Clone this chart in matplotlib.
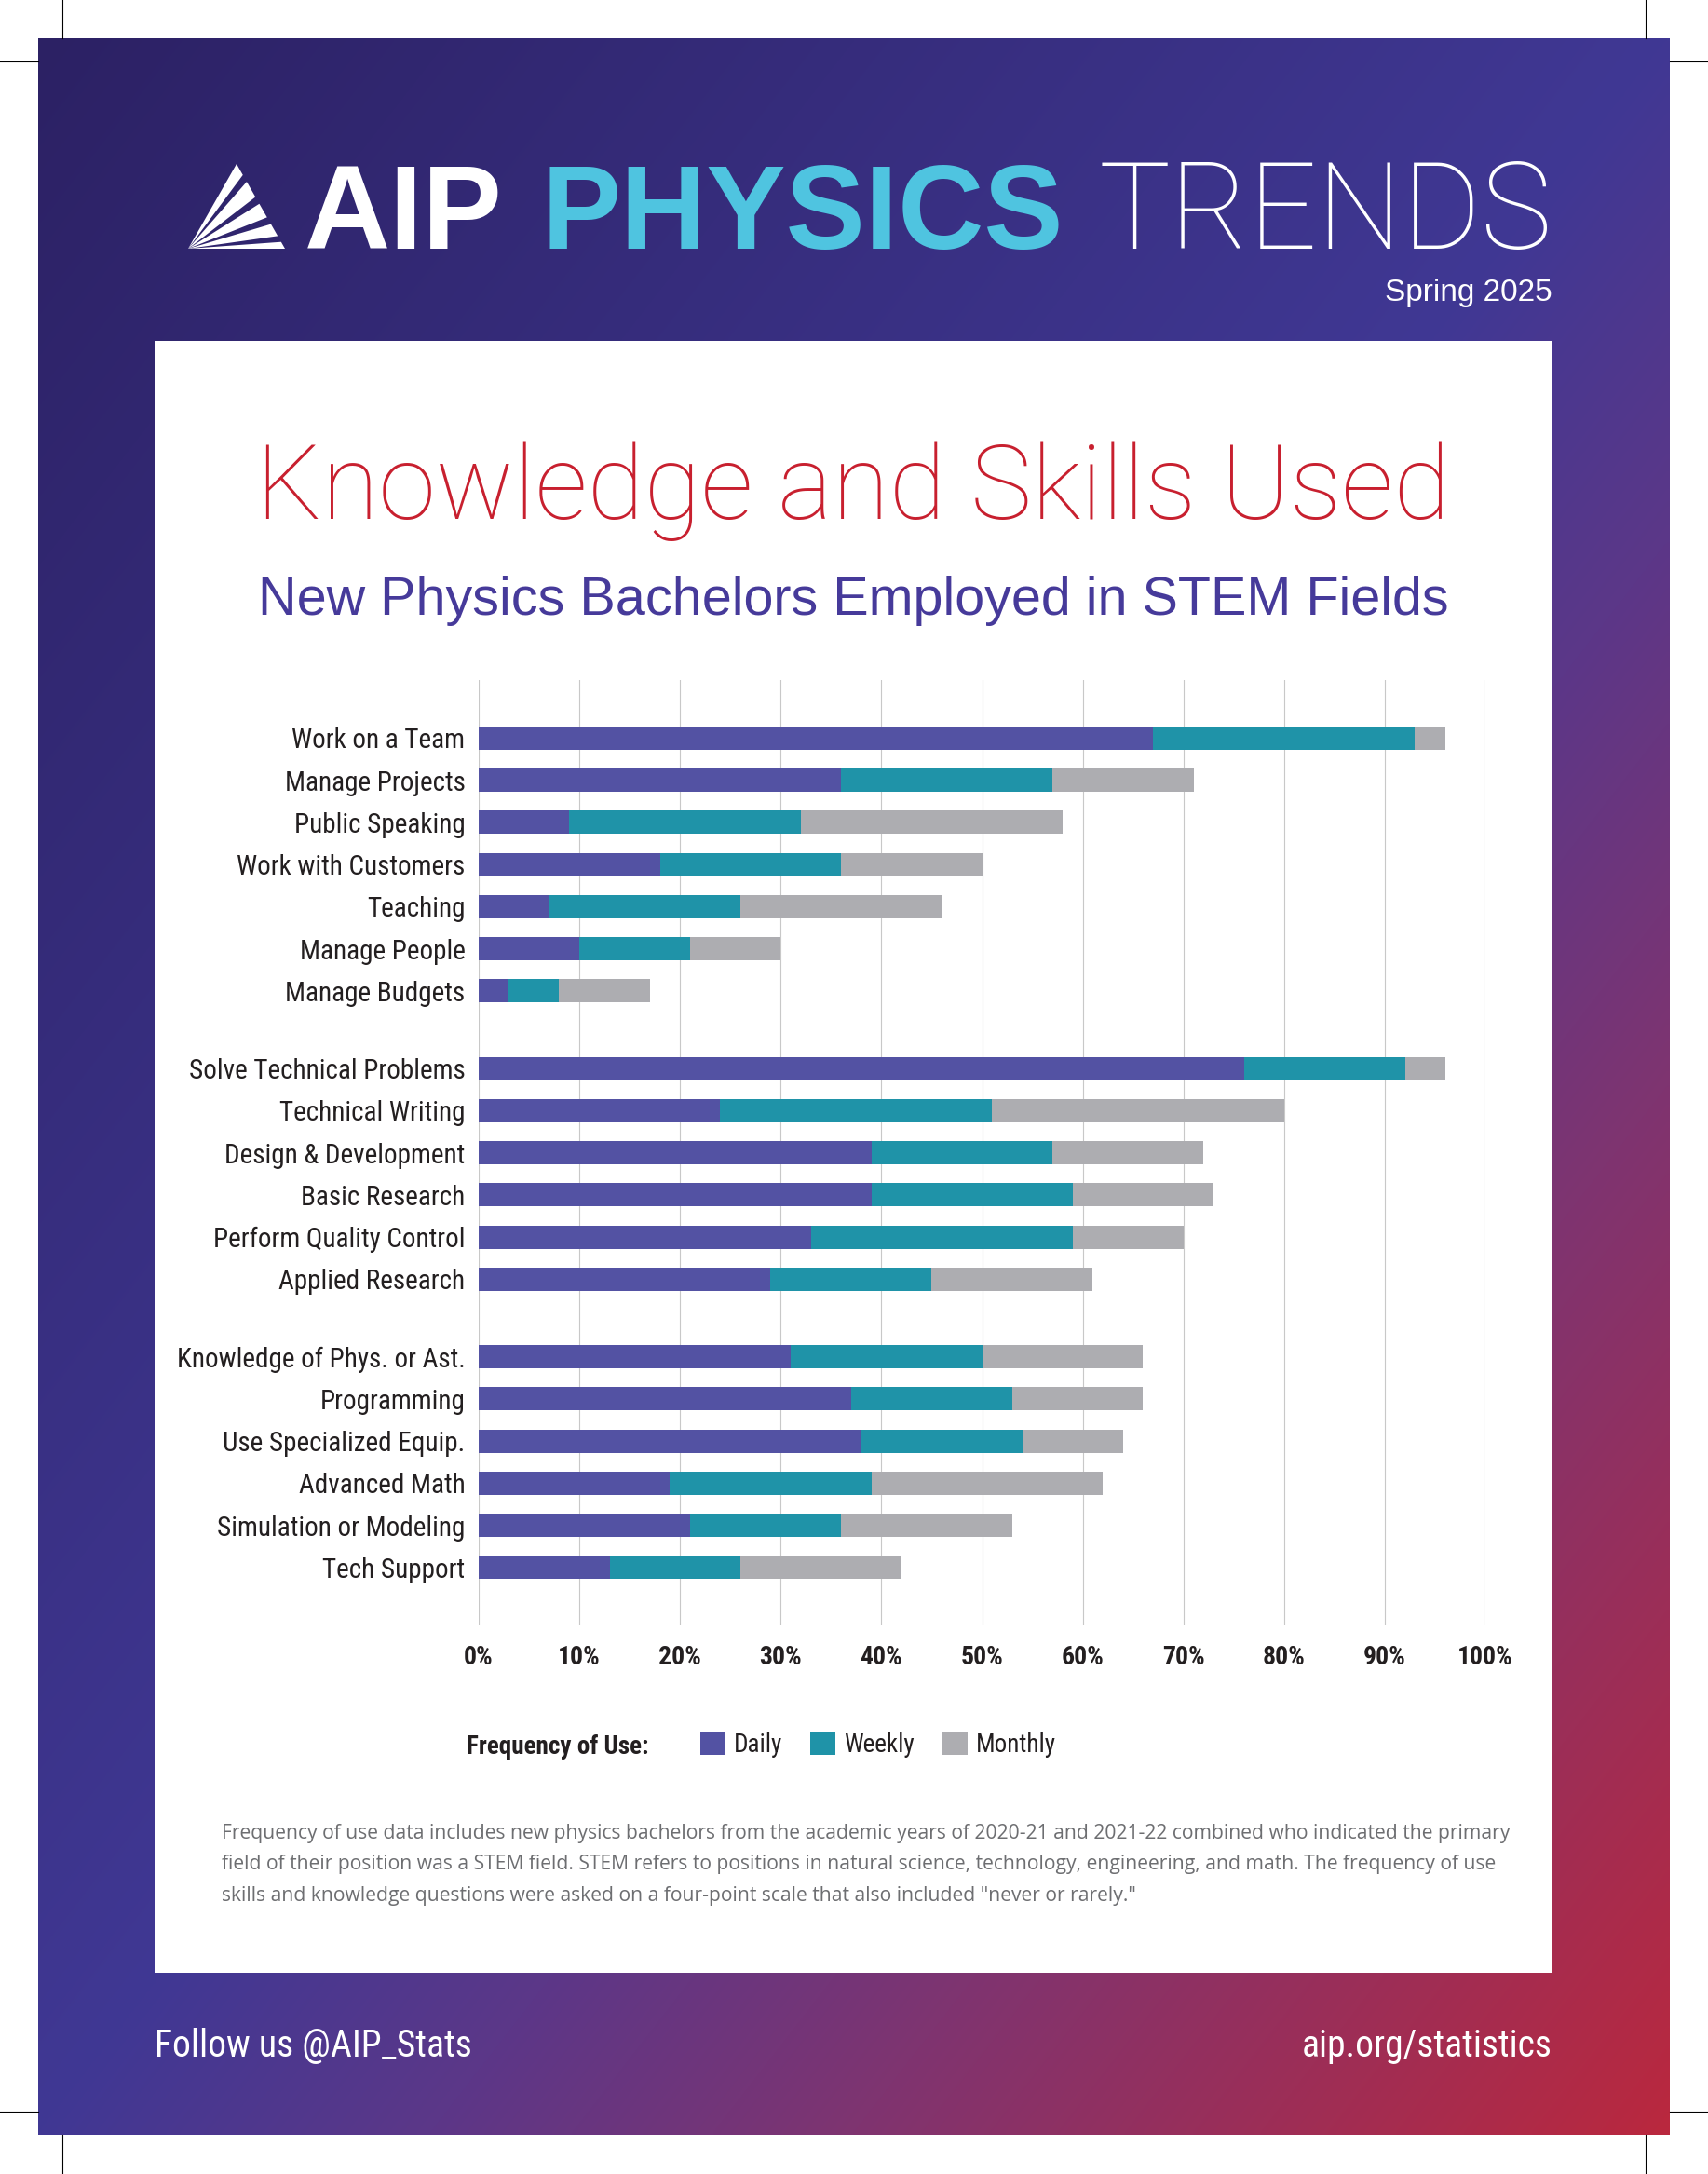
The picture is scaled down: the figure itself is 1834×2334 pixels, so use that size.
import numpy as np
import matplotlib
matplotlib.use('Agg')
import matplotlib.pyplot as plt
from matplotlib import font_manager as fm
from matplotlib.patches import Rectangle, Polygon

skills = ['Work on a Team', 'Manage Projects', 'Public Speaking', 'Work with Customers',
          'Teaching', 'Manage People', 'Manage Budgets',
          'Solve Technical Problems', 'Technical Writing', 'Design & Development',
          'Basic Research', 'Perform Quality Control', 'Applied Research',
          'Knowledge of Phys. or Ast.', 'Programming', 'Use Specialized Equip.',
          'Advanced Math', 'Simulation or Modeling', 'Tech Support']
groups = [0] * 7 + [1] * 6 + [2] * 6
daily = [67, 36, 9, 18, 7, 10, 3, 76, 24, 39, 39, 33, 29, 31, 37, 38, 19, 21, 13]
weekly = [26, 21, 23, 18, 19, 11, 5, 16, 27, 18, 20, 26, 16, 19, 16, 16, 20, 15, 13]
monthly = [3, 14, 26, 14, 20, 9, 9, 4, 29, 15, 14, 11, 16, 16, 13, 10, 23, 17, 16]
series_names = ['Daily', 'Weekly', 'Monthly']
x_ticks = [0, 10, 20, 30, 40, 50, 60, 70, 80, 90, 100]
x_tick_labels = ['0%', '10%', '20%', '30%', '40%', '50%', '60%', '70%', '80%', '90%', '100%']

footnote = ['Frequency of use data includes new physics bachelors from the academic years of 2020-21 and 2021-22 combined who indicated the primary',
            'field of their position was a STEM field. STEM refers to positions in natural science, technology, engineering, and math. The frequency of use',
            'skills and knowledge questions were asked on a four-point scale that also included "never or rarely."']

C_DAILY, C_WEEKLY, C_MONTHLY = '#5352a3', '#1f93a8', '#adadb1'
INK = '#231f20'

avail = {f.name for f in fm.fontManager.ttflist}


def pick(*names):
    for n in names:
        if n in avail:
            return n
    return 'DejaVu Sans'


NARROW = pick('Liberation Sans Narrow', 'Roboto Condensed', 'DejaVu Sans')
SANS = pick('Liberation Sans', 'Arial', 'DejaVu Sans')
LIGHT = pick('Roboto', 'Lato', 'Liberation Sans')
NOTE = pick('Open Sans', 'Liberation Sans')

W, H = 1834, 2334
fig = plt.figure(figsize=(W / 100, H / 100), dpi=100)
fig.patch.set_facecolor('white')

# page decoration in pixel coordinates
bg = fig.add_axes([0, 0, 1, 1], zorder=0)
bg.set_xlim(0, W)
bg.set_ylim(H, 0)
bg.axis('off')

pl, pr, pt, pb = 41, 1793, 41, 2292
gu, gv = np.meshgrid(np.linspace(0, 1, 300), np.linspace(0, 1, 380))
t = 0.5 * (gu + gv)
stops = [0.0, 0.5, 0.62, 0.75, 1.0]
cols = np.array([[44, 33, 100], [64, 56, 148], [92, 55, 136], [127, 52, 112], [186, 40, 62]]) / 255
grad = np.dstack([np.interp(t, stops, cols[:, k]) for k in range(3)])
bg.imshow(grad, extent=(pl, pr, pb, pt), origin='upper', aspect='auto', interpolation='bilinear')
bg.add_patch(Rectangle((166, 366), 1501, 1752, facecolor='white', edgecolor='none'))

# crop marks
for x in (67, 1767):
    bg.plot([x, x], [0, pt], color='black', lw=0.8)
    bg.plot([x, x], [pb, H], color='black', lw=0.8)
for y in (66, 2267):
    bg.plot([0, pl], [y, y], color='black', lw=0.8)
    bg.plot([pr, W], [y, y], color='black', lw=0.8)

# AIP fan logo
ox, oy = 202, 267
top, bot = np.array([254, 176]), np.array([306, 267])
for s0, s1 in [(0.0, 0.13), (0.21, 0.39), (0.47, 0.63), (0.71, 0.85), (0.92, 1.0)]:
    p0 = top + (bot - top) * s0
    p1 = top + (bot - top) * s1
    bg.add_patch(Polygon([(ox, oy), tuple(p0), tuple(p1)], closed=True,
                         facecolor='white', edgecolor='none'))

bg.text(327, 267, 'AIP', fontsize=92, fontweight='bold', family=SANS, color='white',
        ha='left', va='baseline')
bg.text(581, 267, 'PHYSICS', fontsize=92, fontweight='bold', family=SANS, color='#4fc4e0',
        ha='left', va='baseline')
bg.text(1180, 267, 'TRENDS', fontsize=93, fontweight='light', family=LIGHT, color='white',
        ha='left', va='baseline')
bg.text(1667, 323, 'Spring 2025', fontsize=24, family=SANS, color='white',
        ha='right', va='baseline')

bg.text(916.5, 557, 'Knowledge and Skills Used', fontsize=80, fontweight='light', family=LIGHT,
        color='#c8202f', ha='center', va='baseline')
bg.text(916.5, 660, 'New Physics Bachelors Employed in STEM Fields', fontsize=41.4, family=SANS,
        color='#463a9a', ha='center', va='baseline')

for i, line in enumerate(footnote):
    bg.text(237.5, 1974 + i * 33.4, line, fontsize=15.25, family=NOTE, color='#6d6e71',
            ha='left', va='baseline')

bg.text(166, 2208, 'Follow us @AIP_Stats', fontsize=28.5, family=NARROW,
        color='white', ha='left', va='baseline')
bg.text(1667, 2208, 'aip.org/statistics', fontsize=28.5, family=NARROW,
        color='white', ha='right', va='baseline')

# chart
ax = fig.add_axes([514 / W, 1 - 1745 / H, 1081 / W, 1015 / H], zorder=2)
ax.set_facecolor('none')
pos = np.arange(len(skills)) + 0.84 * np.array(groups)
d = np.array(daily)
w = np.array(weekly)
m = np.array(monthly)
b1 = ax.barh(pos, d, height=0.55, color=C_DAILY, label=series_names[0])
b2 = ax.barh(pos, w, left=d, height=0.55, color=C_WEEKLY, label=series_names[1])
b3 = ax.barh(pos, m, left=d + w, height=0.55, color=C_MONTHLY, label=series_names[2])

ax.set_xlim(0, 100)
ax.set_ylim(pos[-1] + 1.373, -1.377)
ax.set_xticks(x_ticks)
ax.set_xticklabels(x_tick_labels, family=NARROW, fontsize=20, fontweight='bold', color=INK)
ax.set_yticks(pos)
ax.set_yticklabels(skills, family=NARROW, fontsize=21, color=INK)
ax.tick_params(axis='both', length=0)
ax.tick_params(axis='x', pad=15)
ax.tick_params(axis='y', pad=10.5)
ax.grid(axis='x', color='#c8c8c8', lw=0.8)
ax.set_axisbelow(True)
for sp in ax.spines.values():
    sp.set_visible(False)

bg.text(500.7, 1882.7, 'Frequency of Use:', fontsize=19.5, fontweight='bold', family=NARROW,
        color=INK, ha='left', va='baseline')
fig.legend(handles=[b1, b2, b3], labels=series_names, loc='center left',
           bbox_to_anchor=(752 / W, 1 - 1873 / H), ncol=3, frameon=False,
           prop=fm.FontProperties(family=NARROW, size=19.5),
           handlelength=1.0, handleheight=1.04, handletextpad=0.33,
           columnspacing=1.1, borderpad=0, borderaxespad=0, labelcolor=INK)

fig.savefig('out.png', dpi=100)
